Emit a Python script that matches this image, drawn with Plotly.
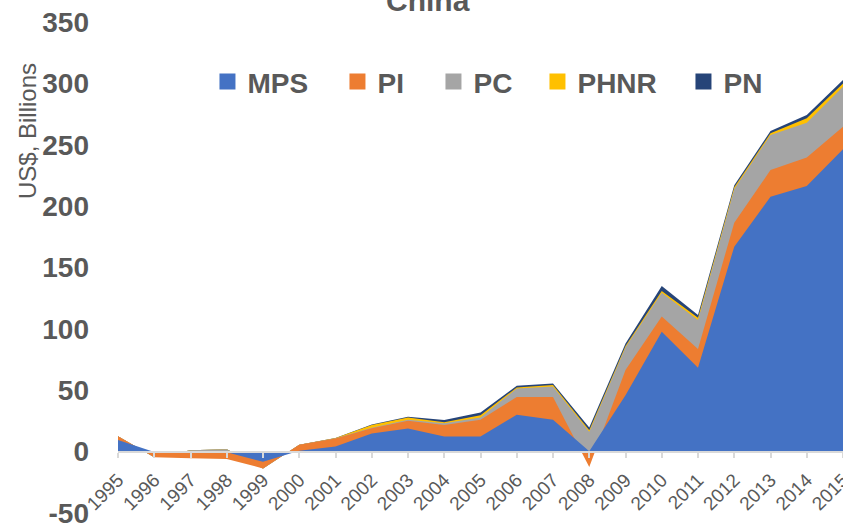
import plotly.graph_objects as go

# ---- data (US$ billions, China) ----
years = list(range(1995, 2016))
year_labels = [str(y) for y in years]
mps  = [9.5, -0.3, -0.5, -0.5, -8.3, 0.7, 4.2, 14.8, 18.9, 12.4, 12.4, 30.0, 25.9, 0.3, 46.0, 97.7, 68.4, 167.0, 207.7, 216.4, 246.3]
pi   = [3.0, -4.2, -4.8, -5.5, -5.4, 4.8, 6.5, 4.3, 6.2, 9.2, 13.5, 14.6, 18.7, -12.8, 20.5, 12.3, 15.2, 19.5, 21.7, 23.3, 18.4]
pc   = [0.0, 0.0, 6.5, 8.0, 0.0, 0.0, 0.2, 0.4, 0.8, 1.6, 2.0, 6.9, 8.5, 28.6, 18.5, 19.5, 23.6, 27.5, 28.6, 28.3, 32.6]
phnr = [0.0, 0.0, 0.0, 0.0, 0.0, 0.0, 0.3, 2.1, 2.0, 0.8, 1.8, 0.8, 1.1, 1.4, 1.0, 1.3, 1.8, 1.3, 1.3, 3.5, 2.7]
pn   = [0.0, 0.0, 0.0, 0.0, 0.0, 0.0, 0.0, 0.4, 0.6, 1.7, 2.2, 1.3, 1.4, 2.2, 2.0, 4.1, 2.3, 1.7, 1.9, 2.7, 2.7]
y_ticks = [-50, 0, 50, 100, 150, 200, 250, 300, 350]

series = [("MPS", mps, "#4472C4"), ("PI", pi, "#ED7D31"), ("PC", pc, "#A5A5A5"),
          ("PHNR", phnr, "#FFC000"), ("PN", pn, "#264478")]
legend_widths = {"MPS": 85, "PI": 51, "PC": 59, "PHNR": 101, "PN": 40}

# cumulative stacks (Excel-style stacking)
cums = []
running = [0.0] * len(years)
for name, vals, col in series:
    running = [a + b for a, b in zip(running, vals)]
    cums.append((name, list(running), col))

FONT = "Liberation Sans, Arial, sans-serif"
TXT = "#595959"

fig = go.Figure()
# draw top series first, each filled to zero, so lower series overlay them
for name, cum, col in reversed(cums):
    fig.add_trace(go.Scatter(x=years, y=cum, mode="lines", fill="tozeroy",
                             fillcolor=col, line=dict(width=0, color=col),
                             showlegend=False, hoverinfo="skip", name=name))
# legend entries
for rank, (name, vals, col) in enumerate(series):
    fig.add_trace(go.Scatter(x=[None], y=[None], mode="markers", name=name,
                             marker=dict(symbol="square", size=16, color=col),
                             legendrank=rank + 1, legendwidth=legend_widths[name]))

fig.update_layout(
    width=843, height=525,
    margin=dict(l=118, r=0, t=22, b=12, autoexpand=False),
    paper_bgcolor="white", plot_bgcolor="white",
    legend=dict(orientation="h", x=0.1234, xanchor="left", y=0.878, yanchor="middle",
                font=dict(family=FONT, size=28, color=TXT, weight="bold"),
                bgcolor="rgba(0,0,0,0)", traceorder="normal"),
    xaxis=dict(range=[1995, 2015], tickmode="array", tickvals=years, ticktext=year_labels,
               tickangle=-45, anchor="free", position=0.125, automargin=False,
               showline=True, linecolor="#D9D9D9", linewidth=2,
               ticks="outside", ticklen=5, tickwidth=2, tickcolor="#D9D9D9",
               ticklabelstandoff=4, ticklabeloverflow="allow",
               tickfont=dict(family=FONT, size=19, color=TXT),
               showgrid=False, zeroline=False),
    yaxis=dict(range=[-50, 350], tickmode="array", tickvals=y_ticks, automargin=False,
               ticktext=[str(v) for v in y_ticks],
               showgrid=False, zeroline=False, showline=False, ticks="",
               ticklabelstandoff=28, ticklabeloverflow="allow",
               tickfont=dict(family=FONT, size=28, color=TXT, weight="bold")),
    annotations=[
        dict(text="China", xref="paper", yref="paper", x=0.428, y=1.0436,
             xanchor="center", yanchor="middle", showarrow=False,
             font=dict(family=FONT, size=30, color=TXT, weight="bold")),
        dict(text="US$, Billions", xref="paper", yref="paper", x=-0.1255, y=0.778,
             xanchor="center", yanchor="middle", textangle=-90, showarrow=False,
             font=dict(family=FONT, size=24, color=TXT)),
    ],
)

fig.write_html("out.html")
